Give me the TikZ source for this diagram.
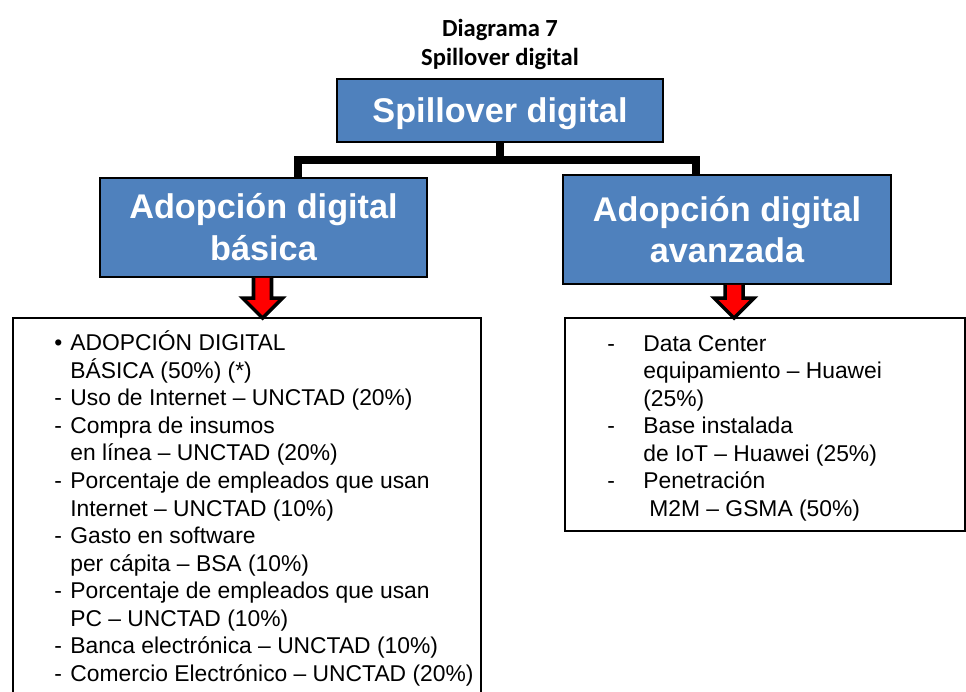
\documentclass[tikz,border=0pt]{standalone}
\usepackage{fontspec}
\setmainfont{Liberation Sans}
\newfontfamily\captionfont{Carlito}
\usetikzlibrary{positioning,calc}
\definecolor{boxblue}{HTML}{4F81BD}
\tikzset{
  caption/.style={font=\captionfont\bfseries\fontsize{14}{16.4}\selectfont, align=center, inner sep=0pt},
  bluebox/.style={draw=black, line width=1pt, fill=boxblue, text=white, align=center, inner sep=0pt,
    font=\bfseries\fontsize{19.5}{23.8}\selectfont},
  listbox/.style={draw=black, line width=1pt, inner sep=0pt, anchor=north west},
  listtext/.style={anchor=base west, inner sep=0pt, font=\fontsize{13}{15.7}\selectfont},
  branch/.style={line width=4pt, line join=miter},
  blockarr/.style={draw=black, fill=red, line width=2pt, line join=miter}
}
\begin{document}
\begin{tikzpicture}[x=0.02cm, y=-0.02cm]
  \useasboundingbox (0,0) rectangle (966,691);
  \clip (0,0) rectangle (966,691);

  % caption
  \node[caption] (caption) at (500,44.5) {Diagrama 7\\Spillover digital};

  % boxes
  \node[bluebox, minimum width=6.52cm, minimum height=1.26cm, text depth=0pt] (spill) at (500,110.5) {Spillover digital};
  \node[bluebox, minimum width=6.54cm, minimum height=1.98cm] (basic) at (263.5,227.5) {Adopción digital\\básica};
  \node[bluebox, minimum width=6.56cm, minimum height=2.18cm] (advanced) at (727,229.5) {Adopción digital\\avanzada};

  \node[listbox, minimum width=9.36cm, minimum height=8.6cm] (basicbox) at (12,317) {};
  \node[listbox, minimum width=8.0cm, minimum height=4.26cm] (advbox) at (564,317) {};

  % tree lines
  \coordinate (lstub) at (298,160);
  \coordinate (rstub) at (696,160);
  \draw[branch] (spill.south) -- (spill.south |- lstub);
  \draw[branch] (basic.north -| lstub) -- (lstub) -- (rstub) -- (advanced.north -| rstub);

  % block arrows
  \foreach \src/\dst/\dx in {basic/basicbox/-1, advanced/advbox/7}{
    \coordinate (from) at ($(\src.south)+(\dx,0)$);
    \coordinate (tip) at ($(from |- \dst.north)+(0,1)$);
    \draw[blockarr] ($(from)+(-9,0)$) -- ($(tip)+(-9,-20)$) -- ($(tip)+(-20,-20)$) -- (tip)
      -- ($(tip)+(20,-20)$) -- ($(tip)+(9,-20)$) -- ($(from)+(9,0)$);
  }

  % lists
  \node[listtext] (basiclist) at (54,350) {%
    \begin{tabular}[t]{@{}p{0.32cm}@{}l@{}}
      \textbullet & ADOPCIÓN DIGITAL\\
       & BÁSICA (50\%) (*)\\
      - & Uso de Internet – UNCTAD (20\%)\\
      - & Compra de insumos\\
       & en línea – UNCTAD (20\%)\\
      - & Porcentaje de empleados que usan\\
       & Internet – UNCTAD (10\%)\\
      - & Gasto en software\\
       & per cápita – BSA (10\%)\\
      - & Porcentaje de empleados que usan\\
       & PC – UNCTAD (10\%)\\
      - & Banca electrónica – UNCTAD (10\%)\\
      - & Comercio Electrónico – UNCTAD (20\%)
    \end{tabular}};
  \node[listtext] (advlist) at (607,351) {%
    \begin{tabular}[t]{@{}p{0.72cm}@{}l@{}}
      - & Data Center\\
       & equipamiento – Huawei\\
       & (25\%)\\
      - & Base instalada\\
       & de IoT – Huawei (25\%)\\
      - & Penetración\\
       & \hspace{0.12cm}M2M – GSMA (50\%)
    \end{tabular}};
\end{tikzpicture}
\end{document}
